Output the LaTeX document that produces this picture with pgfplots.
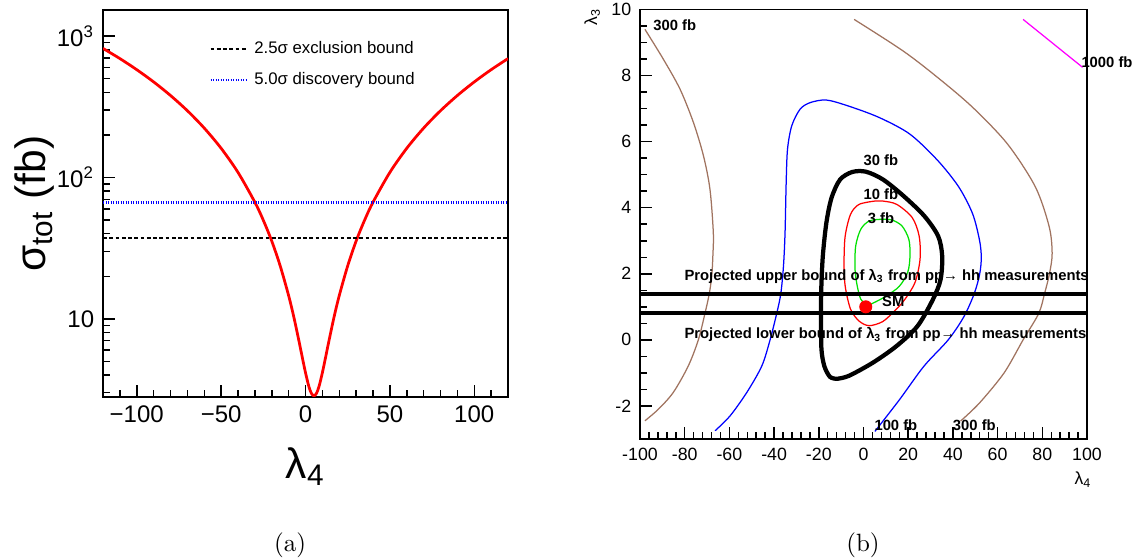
\documentclass[border=0pt]{standalone}
\usepackage{pgfplots}
\pgfplotsset{compat=1.18}
\usepackage{fontspec}
\newfontfamily\arial{Liberation Sans}
\definecolor{cbrown}{RGB}{160,115,95}
\definecolor{cgreen}{RGB}{0,225,0}
\definecolor{cmag}{RGB}{255,0,255}
\newcommand{\lab}{\arial\fontsize{5.92}{7}\selectfont\bfseries}
\begin{document}
\begin{tikzpicture}
\path[use as bounding box] (0,0) rectangle (454.8pt,223.6pt);

% ---------------- panel (a) ----------------
\begin{axis}[
  at={(41.2pt,64.8pt)}, anchor=south west, scale only axis,
  width=162pt, height=154.8pt,
  ymode=log, xmin=-120, xmax=120, ymin=2.8, ymax=1530,
  xtick={-100,-50,0,50,100}, xticklabels={−100,−50,0,50,100},
  ytick={10,100,1000}, yticklabels={10,10\textsuperscript{2},10\textsuperscript{3}},
  minor xtick={-110,-90,-80,-70,-60,-40,-30,-20,-10,10,20,30,40,60,70,80,90,110},
  minor ytick={3,4,5,6,7,8,9,20,30,40,50,60,70,80,90,200,300,400,500,600,700,800,900},
  tick align=inside, xtick pos=bottom, ytick pos=left,
  major tick length=4.8pt, minor tick length=2.6pt,
  tick label style={font=\arial\fontsize{9.6}{11}\selectfont},
  axis line style={line width=0.7pt},
  every tick/.style={black, line width=0.6pt},
  clip mode=individual,
  legend style={at={(0.262,0.934)}, anchor=north west, draw=none, fill=none,
    font=\arial\fontsize{6.7}{8}\selectfont, row sep=2pt, inner sep=0pt},
  legend cell align=left,
  legend image code/.code={\draw[#1] (0pt,0pt) -- (15pt,0pt);},
]
\addplot[red, line width=1.1pt, smooth, forget plot] coordinates {
(-120,818.5) (-110,693.2) (-100,578.4) (-90,474.0) (-80,380.0) (-70,296.5)
(-60,223.4) (-50,160.8) (-40,108.6) (-30,66.8) (-25,49.8) (-20,35.5)
(-15,23.7) (-10,14.6) (-7,10.4) (-4,7.08) (-2,5.41) (0,4.16) (2,3.32)
(3.5,2.97) (5,2.85) (6.5,2.97) (8,3.32) (10,4.16) (12,5.41) (14,7.08)
(17,10.4) (20,14.6) (25,23.7) (30,35.5) (35,49.8) (40,66.8) (50,108.6)
(60,160.8) (70,223.4) (80,296.5) (90,380.0) (100,474.0) (110,578.4) (120,693.2)
};
\addplot[black, line width=0.9pt, dash pattern=on 1.5pt off 1pt] coordinates {(-120,37.5) (120,37.5)};
\addlegendentry{2.5σ exclusion bound}
\addplot[blue, line width=0.9pt, dash pattern=on 0.5pt off 0.5pt] coordinates {(-120,66.5) (120,66.5)};
\addlegendentry{5.0σ discovery bound}
\node[rotate=90, font=\arial\fontsize{17}{20}\selectfont] at (rel axis cs:-0.168,0.5) {σ\textsubscript{tot}~(fb)};
\node[font=\arial\fontsize{17}{20}\selectfont] at (rel axis cs:0.5,-0.18) {λ\textsubscript{4}};
\end{axis}

% ---------------- panel (b) ----------------
\begin{axis}[
  at={(256pt,48pt)}, anchor=south west, scale only axis,
  width=178.8pt, height=171.8pt,
  xmin=-100, xmax=100, ymin=-3, ymax=10,
  xtick={-100,-80,-60,-40,-20,0,20,40,60,80,100},
  xticklabels={-100,-80,-60,-40,-20,0,20,40,60,80,100},
  ytick={-2,0,2,4,6,8,10}, yticklabels={-2,0,2,4,6,8,10},
  minor x tick num=4, minor y tick num=3,
  tick align=inside, xtick pos=bottom, ytick pos=left,
  major tick length=4.8pt, minor tick length=2.6pt,
  tick label style={font=\arial\fontsize{7.1}{8}\selectfont},
  axis line style={line width=0.6pt},
  every tick/.style={black, line width=0.6pt},
  clip mode=individual,
]
% 300 fb (left)
\addplot[cbrown, line width=0.5pt, smooth] coordinates {
(-97.8,9.40) (-89.6,8.50) (-82.1,7.59) (-76.1,6.58) (-71.6,5.57) (-68.7,4.56)
(-67.2,3.25) (-67.4,2.54) (-67.9,1.94) (-69.0,1.40) (-70.9,0.81) (-73.9,0)
(-78.4,-0.79) (-85.1,-1.59) (-91.8,-2.10) (-97.8,-2.45)};
% 300 fb (right)
\addplot[cbrown, line width=0.5pt, smooth] coordinates {
(-4.2,9.70) (17.6,8.75) (33.2,7.94) (48.8,7.04) (64.4,5.93) (76.9,4.63)
(83.1,3.42) (84.4,2.61) (83.2,2.0) (81.0,1.4) (78.4,0.8) (71.4,0)
(62.9,-1.0) (51.9,-1.91) (43.4,-2.46)};
% 1000 fb
\addplot[cmag, line width=0.5pt] coordinates {(71.4,9.70) (98.0,8.25)};
% 100 fb
\addplot[blue, line width=0.5pt, smooth] coordinates {
(-66.4,-2.75) (-59.7,-2.30) (-52.2,-1.59) (-45.5,-0.79) (-41.8,0) (-38.8,0.81)
(-37.0,1.40) (-35.8,2.24) (-35.1,3.25) (-34.6,4.76) (-34.0,5.77) (-32.1,6.48)
(-28.4,6.98) (-23.9,7.18) (-16.7,7.26) (-7.3,7.09) (6.7,6.74) (20.7,6.23)
(33.2,5.43) (42.6,4.63) (48.8,3.82) (51.9,3.02) (52.7,2.5) (52.0,2.0)
(49.6,1.41) (44.9,0.70) (37.9,0) (27.0,-0.80) (16.1,-1.81) (5.1,-2.77)};
% 30 fb
\addplot[black, line width=1.7pt, smooth] coordinates {
(-12.0,-1.18) (-15.0,-1.12) (-17.5,-0.8) (-18.8,-0.3) (-19.0,0.6) (-18.9,1.53)
(-18.2,2.54) (-16.6,3.55) (-14.3,4.30) (-10.5,4.85) (-5.1,5.08) (1.1,5.09)
(8.8,4.85) (18.0,4.35) (27.2,3.75) (33.4,3.14) (35.2,2.54) (34.5,1.83)
(31.1,1.23) (24.2,0.42) (14.9,-0.18) (4.2,-0.69) (-6.6,-1.09) (-12.0,-1.18)};
% 10 fb
\addplot[red, line width=0.5pt, smooth] coordinates {
(4.9,4.20) (-2.0,4.10) (-5.8,3.80) (-8.2,3.14) (-8.7,2.34) (-8.2,1.63)
(-5.8,0.93) (-2.0,0.57) (2.5,0.43) (8.5,0.55) (13.5,0.85) (18.0,1.18) (23.0,1.73)
(25.3,2.44) (24.9,3.14) (21.8,3.70) (14.9,4.10) (8.8,4.20) (4.9,4.20)};
% 3 fb
\addplot[cgreen, line width=0.5pt, smooth] coordinates {
(8.0,3.65) (2.6,3.60) (-1.2,3.35) (-3.5,2.84) (-3.8,2.14) (-2.8,1.63)
(-1.2,1.23) (1.5,1.05) (4.5,1.12) (10.0,1.32) (16.0,1.62) (19.8,2.05)
(20.8,2.54) (20.3,3.04) (17.2,3.45) (12.6,3.63) (8.0,3.65)};
% projected bounds
\addplot[black, line width=1.6pt] coordinates {(-100,1.4) (100,1.4)};
\addplot[black, line width=1.6pt] coordinates {(-100,0.8) (100,0.8)};
% SM point
\addplot[only marks, mark=*, mark size=2.4pt, red] coordinates {(1,1)};
% labels
\node[font=\lab, anchor=west] at (axis cs:-98,9.52) {300 fb};
\node[font=\lab, anchor=east, inner sep=0pt, xshift=18.4pt] at (axis cs:100,8.40) {1000 fb};
\node[font=\lab] at (axis cs:7.8,5.45) {30 fb};
\node[font=\lab] at (axis cs:7.8,4.40) {10 fb};
\node[font=\lab] at (axis cs:7.8,3.69) {3 fb};
\node[font=\lab, anchor=west] at (axis cs:4.4,1.16) {SM};
\node[font=\lab] at (axis cs:14.5,-2.59) {100 fb};
\node[font=\lab] at (axis cs:49.6,-2.59) {300 fb};
\node[font=\lab, anchor=west, inner sep=0pt] at (axis cs:-80.3,1.93) {Projected upper bound of λ\textsubscript{3} from pp→ hh measurements};
\node[font=\lab, anchor=west, inner sep=0pt] at (axis cs:-80.3,0.15) {Projected lower bound of λ\textsubscript{3} from pp→ hh measurements};
\node[rotate=90, anchor=east, inner sep=0pt, font=\arial\fontsize{7}{8}\selectfont] at (rel axis cs:-0.107,1.004) {λ\textsubscript{3}};
\node[anchor=north east, inner sep=0pt, yshift=-13pt, xshift=2pt, font=\arial\fontsize{7}{8}\selectfont] at (rel axis cs:1,0) {λ\textsubscript{4}};
\end{axis}

\node[font=\fontsize{10}{12}\selectfont] at (116pt,5.6pt) {(a)};
\node[font=\fontsize{10}{12}\selectfont] at (345.2pt,5.6pt) {(b)};
\end{tikzpicture}
\end{document}
